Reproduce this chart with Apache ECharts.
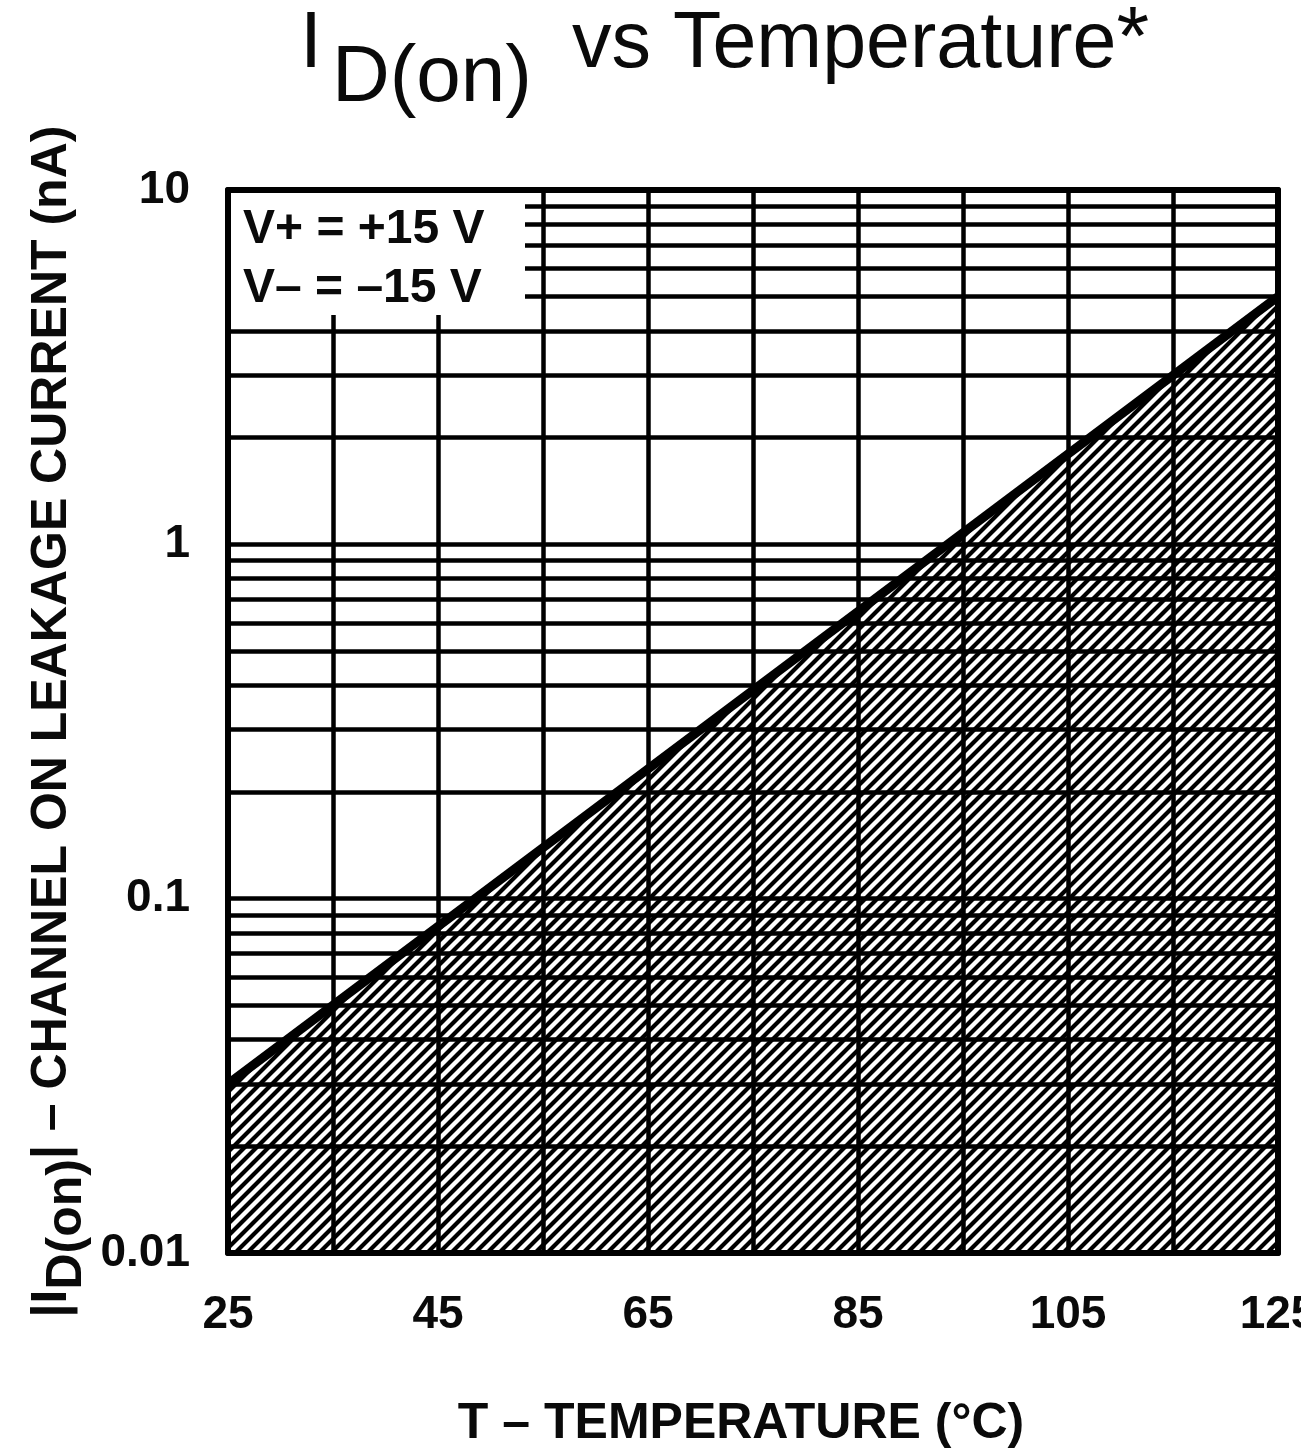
<!DOCTYPE html>
<html><head><meta charset="utf-8">
<script src="https://cdn.jsdelivr.net/npm/echarts@6/dist/echarts.min.js"></script>
<style>html,body{margin:0;padding:0;background:#fff;overflow:hidden}#c{width:1301px;height:1451px}</style>
</head><body><div id="c"></div>
<script>
// ---- data ----
const lineTemp = [25, 125];
const lineCurrent = [0.03, 5];
const xTickLabels = [25, 45, 65, 85, 105, 125];
const xGridLines = [35, 45, 55, 65, 75, 85, 95, 105, 115];
const yTickLabels = [0.01, 0.1, 1, 10];
const yGridLines = [0.02, 0.03, 0.04, 0.05, 0.06, 0.07, 0.08, 0.09, 0.1,
                    0.2, 0.3, 0.4, 0.5, 0.6, 0.7, 0.8, 0.9, 1,
                    2, 3, 4, 5, 6, 7, 8, 9];
const annotation = ['V+ = +15 V', 'V\u2013 = \u201315 V'];
const titleParts = ['I', 'D(on)', 'vs Temperature', '*'];
const xName = 'T \u2013 TEMPERATURE (\u00B0C)';
const yNameParts = ['|I', 'D(on)', '| \u2013 CHANNEL ON LEAKAGE CURRENT (nA)'];

const FONT = '"Liberation Sans", Arial, Helvetica, sans-serif';
const INK = '#0a0a0a';

function makeHatch() {
  const s = 12;
  const c = document.createElement('canvas');
  c.width = s; c.height = s;
  const g = c.getContext('2d');
  g.fillStyle = '#fff'; g.fillRect(0, 0, s, s);
  g.strokeStyle = '#000'; g.lineWidth = 4.2;
  g.beginPath();
  g.moveTo(-s / 2, s / 2); g.lineTo(s / 2, -s / 2);
  g.moveTo(-1, s + 1); g.lineTo(s + 1, -1);
  g.moveTo(s / 2, 1.5 * s); g.lineTo(1.5 * s, s / 2);
  g.stroke();
  return c;
}
const hatchCanvas = makeHatch();

const chart = echarts.init(document.getElementById('c'), null, {renderer: 'canvas', width: 1301, height: 1451});
const axisLineStyle = {color: '#000', width: 6};

function tok(size, h, extra) {
  return Object.assign({fontSize: size, lineHeight: h, height: h, verticalAlign: 'top',
    fontFamily: FONT, color: INK, fontWeight: 'normal'}, extra || {});
}

chart.setOption({
  animation: false,
  backgroundColor: '#fff',
  title: {
    left: 300, top: 6, padding: 0,
    text: '{i|' + titleParts[0] + '}{s|' + titleParts[1] + '}{m|' + titleParts[2] + '}{a|' + titleParts[3] + '}',
    textStyle: {
      fontWeight: 'normal',
      rich: {
        i: tok(79, 79),
        s: tok(80, 146, {padding: [0, 0, 0, 10]}),
        m: tok(79, 79, {padding: [0, 0, 0, 40]}),
        a: tok(84, 71)
      }
    }
  },
  grid: {left: 228, right: 23, top: 190, bottom: 198, containLabel: false, outerBoundsMode: 'none'},
  xAxis: [{
    type: 'value', min: 25, max: 125, interval: 5, position: 'bottom',
    axisLine: {show: true, onZero: false, lineStyle: axisLineStyle},
    axisTick: {show: false}, splitLine: {show: false},
    axisLabel: {
      formatter: v => xTickLabels.includes(v) ? String(v) : '',
      fontSize: 46, fontWeight: 'bold', fontFamily: FONT, color: INK, margin: 39
    },
    name: xName, nameLocation: 'middle', nameGap: 146, nameMoveOverlap: false,
    nameTextStyle: {fontSize: 50, fontWeight: 'bold', fontFamily: FONT, color: INK, padding: [0, 24, 0, 0]},
    z: 10
  }, {
    type: 'value', min: 25, max: 125, interval: 5, position: 'top',
    axisLine: {show: true, onZero: false, lineStyle: axisLineStyle},
    axisTick: {show: false}, splitLine: {show: false}, axisLabel: {show: false}, z: 10
  }],
  yAxis: [{
    type: 'log', logBase: 10, min: yTickLabels[0], max: yTickLabels[yTickLabels.length - 1], position: 'left',
    axisLine: {show: true, onZero: false, lineStyle: axisLineStyle},
    axisTick: {show: false}, splitLine: {show: false},
    axisLabel: {
      formatter: v => String(parseFloat(Number(v).toPrecision(6))),
      fontSize: 46, fontWeight: 'bold', fontFamily: FONT, color: INK, margin: 38
    },
    name: '{m|' + yNameParts[0] + '}{s|' + yNameParts[1] + '}{m|' + yNameParts[2] + '}',
    nameLocation: 'middle', nameRotate: 90, nameGap: 121, nameMoveOverlap: false,
    nameTextStyle: {
      rich: {
        m: tok(50, 50, {fontWeight: 'bold'}),
        s: tok(50, 80, {fontWeight: 'bold'})
      }
    },
    z: 10
  }, {
    type: 'log', logBase: 10, min: yTickLabels[0], max: yTickLabels[yTickLabels.length - 1], position: 'right',
    axisLine: {show: true, onZero: false, lineStyle: axisLineStyle},
    axisTick: {show: false}, splitLine: {show: false}, axisLabel: {show: false}, z: 10
  }],
  series: [{
    type: 'custom',
    silent: true,
    z: 1,
    data: lineTemp.map((t, i) => [t, lineCurrent[i]]),
    renderItem: function (params, api) {
      if (params.dataIndex !== 0) return null;
      const pts = lineTemp.map((t, i) => api.coord([t, lineCurrent[i]]));
      pts.push(api.coord([lineTemp[lineTemp.length - 1], yTickLabels[0]]));
      pts.push(api.coord([lineTemp[0], yTickLabels[0]]));
      return {
        type: 'polygon',
        shape: {points: pts},
        style: {fill: {image: hatchCanvas, repeat: 'repeat'}, stroke: null}
      };
    }
  }, {
    type: 'line',
    z: 3,
    silent: true,
    symbol: 'none',
    data: lineTemp.map((t, i) => [t, lineCurrent[i]]),
    lineStyle: {color: '#000', width: 9},
    markLine: {
      silent: true,
      symbol: ['none', 'none'],
      label: {show: false},
      lineStyle: {color: '#000', width: 4.5, type: 'solid'},
      emphasis: {disabled: true},
      data: yGridLines.map(v => ({yAxis: v})).concat(xGridLines.map(v => ({xAxis: v})))
    }
  }],
  graphic: [{
    type: 'rect', z: 100, silent: true,
    shape: {x: 231, y: 193, width: 294, height: 122},
    style: {fill: '#fff'}
  }, {
    type: 'text', z: 101, silent: true, x: 243, y: 230,
    style: {text: annotation[0], font: 'bold 48px ' + FONT, fill: INK, verticalAlign: 'middle'}
  }, {
    type: 'text', z: 101, silent: true, x: 243, y: 289,
    style: {text: annotation[1], font: 'bold 48px ' + FONT, fill: INK, verticalAlign: 'middle'}
  }]
});
</script>
</body></html>
